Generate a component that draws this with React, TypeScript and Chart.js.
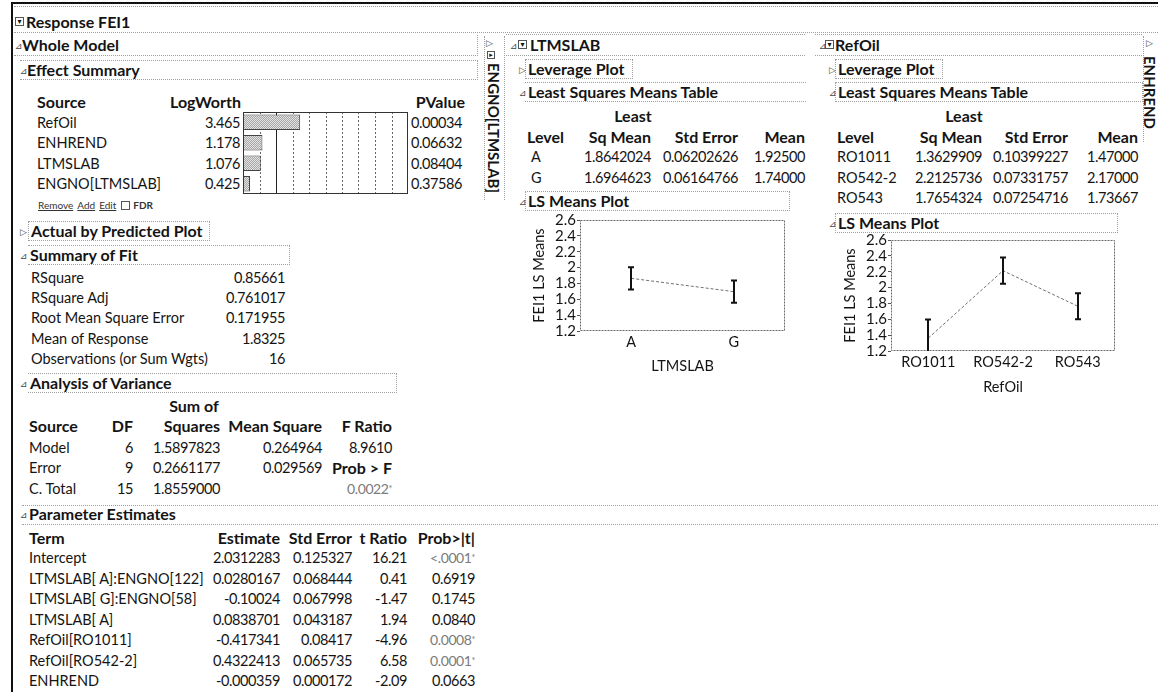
import React, { useEffect, useRef } from 'react';
import { Chart, registerables } from 'chart.js';
Chart.register(...registerables);

const FONT = 'Lato, "Noto Sans", sans-serif';

// ---------- data ----------
const effectSources = ['RefOil', 'ENHREND', 'LTMSLAB', 'ENGNO[LTMSLAB]'];
const logWorth = [3.465, 1.178, 1.076, 0.425];
const effectPValues = ['0.00034', '0.06632', '0.08404', '0.37586'];
const logWorthMax = 10;
const logWorthGrid = [1, 2, 3, 4, 5, 6, 7, 8, 9];
const logWorthRef = 2;

const fitLabels = ['RSquare', 'RSquare Adj', 'Root Mean Square Error', 'Mean of Response', 'Observations (or Sum Wgts)'];
const fitValues = ['0.85661', '0.761017', '0.171955', '1.8325', '16'];

const anovaSource = ['Model', 'Error', 'C. Total'];
const anovaDF = ['6', '9', '15'];
const anovaSS = ['1.5897823', '0.2661177', '1.8559000'];
const anovaMS = ['0.264964', '0.029569', ''];
const anovaF = ['8.9610', 'Prob > F', '0.0022*'];

const paramTerms = ['Intercept', 'LTMSLAB[ A]:ENGNO[122]', 'LTMSLAB[ G]:ENGNO[58]', 'LTMSLAB[ A]', 'RefOil[RO1011]', 'RefOil[RO542-2]', 'ENHREND'];
const paramEst = ['2.0312283', '0.0280167', '-0.10024', '0.0838701', '-0.417341', '0.4322413', '-0.000359'];
const paramSE = ['0.125327', '0.068444', '0.067998', '0.043187', '0.08417', '0.065735', '0.000172'];
const paramT = ['16.21', '0.41', '-1.47', '1.94', '-4.96', '6.58', '-2.09'];
const paramP = ['<.0001*', '0.6919', '0.1745', '0.0840', '0.0008*', '0.0001*', '0.0663'];

const ltmsLevels = ['A', 'G'];
const ltmsLsMean = [1.8642024, 1.6964623];
const ltmsLsMeanText = ['1.8642024', '1.6964623'];
const ltmsStdErr = ['0.06202626', '0.06164766'];
const ltmsMean = ['1.92500', '1.74000'];
const ltmsLower = [1.724, 1.557];
const ltmsUpper = [2.004, 1.836];

const refLevels = ['RO1011', 'RO542-2', 'RO543'];
const refLsMean = [1.3629909, 2.2125736, 1.7654324];
const refLsMeanText = ['1.3629909', '2.2125736', '1.7654324'];
const refStdErr = ['0.10399227', '0.07331757', '0.07254716'];
const refMean = ['1.47000', '2.17000', '1.73667'];
const refLower = [1.128, 2.047, 1.601];
const refUpper = [1.598, 2.378, 1.929];

const lsTicks = [1.2, 1.4, 1.6, 1.8, 2.0, 2.2, 2.4, 2.6];

// ---------- helpers ----------
const W = 1158;
const REG = 14.5;
const BOLD = 16;

function T(props: { x: number; y: number; children: any; bold?: boolean; num?: boolean; align?: 'left' | 'right' | 'center'; size?: number; color?: string; style?: any }) {
  const { x, y, children, bold, num, align = 'left', color = '#141414', style } = props;
  const size = props.size ?? (bold ? BOLD : REG);
  const s: any = {
    position: 'absolute', top: y - 9, whiteSpace: 'nowrap', fontSize: size, lineHeight: '18px',
    fontWeight: bold ? 700 : 400, color, letterSpacing: num ? '-0.4px' : 'normal', ...style,
  };
  if (align === 'right') s.right = W - x;
  else if (align === 'center') { s.left = x; s.transform = 'translateX(-50%)'; }
  else s.left = x;
  return <div style={s}>{children}</div>;
}

function Box(props: { x1: number; y1: number; x2: number; y2: number; sides?: string }) {
  const { x1, y1, x2, y2, sides = 'tlrb' } = props;
  const b = '1px dotted #a0a0a0';
  return (
    <div style={{
      position: 'absolute', left: x1, top: y1, width: x2 - x1, height: y2 - y1, boxSizing: 'border-box',
      borderTop: sides.includes('t') ? b : 'none', borderLeft: sides.includes('l') ? b : 'none',
      borderRight: sides.includes('r') ? b : 'none', borderBottom: sides.includes('b') ? b : 'none',
    }} />
  );
}

function Tri(props: { x: number; y: number; open?: boolean }) {
  return (
    <div style={{ position: 'absolute', left: props.x, top: props.y - 6, fontSize: 9, lineHeight: '12px', color: '#444', fontFamily: 'DejaVu Sans' }}>
      {props.open === false ? '▷' : '⊿'}
    </div>
  );
}

function MenuIcon(props: { x: number; y: number }) {
  return (
    <div style={{
      position: 'absolute', left: props.x, top: props.y - 5, width: 9, height: 9, border: '1px solid #555', boxSizing: 'border-box',
      fontSize: 8, lineHeight: '7px', textAlign: 'center', color: '#111', fontFamily: 'DejaVu Sans',
    }}>▾</div>
  );
}

function PVal(props: { x: number; y: number; v: string }) {
  const star = props.v.endsWith('*');
  const base = star ? props.v.slice(0, -1) : props.v;
  return (
    <T x={props.x} y={props.y} align="right" num color={star ? '#7a7a7a' : '#141414'} size={star ? 14 : REG}>
      {base}{star ? <span style={{ fontSize: 9, verticalAlign: 'top' }}>*</span> : null}
    </T>
  );
}

// ---------- LogWorth bar chart ----------
function LogWorthChart() {
  const ref = useRef<HTMLCanvasElement>(null);
  useEffect(() => {
    const cv = ref.current!;
    const pc = document.createElement('canvas');
    pc.width = 2; pc.height = 2;
    const g = pc.getContext('2d')!;
    g.fillStyle = '#e2e2e2'; g.fillRect(0, 0, 2, 2);
    g.fillStyle = '#a8a8a8'; g.fillRect(0, 0, 1, 1); g.fillRect(1, 1, 1, 1);
    const pattern = cv.getContext('2d')!.createPattern(pc, 'repeat');
    const chart = new Chart(cv, {
      type: 'bar',
      data: {
        labels: effectSources,
        datasets: [{ data: logWorth, backgroundColor: pattern as any, borderColor: '#444', borderWidth: 1, barPercentage: 0.76, categoryPercentage: 1 }],
      },
      options: {
        indexAxis: 'y', animation: false, responsive: false, events: [],
        layout: { padding: 0 },
        plugins: { legend: { display: false }, tooltip: { enabled: false } },
        scales: { x: { display: false, min: 0, max: logWorthMax }, y: { display: false } },
      },
      plugins: [{
        id: 'lwGrid',
        beforeDatasetsDraw(c: any) {
          const { ctx, chartArea: a, scales } = c;
          ctx.save();
          logWorthGrid.forEach((v) => {
            const x = Math.round(scales.x.getPixelForValue(v)) + 0.5;
            ctx.beginPath();
            ctx.strokeStyle = v === logWorthRef ? '#222' : '#666';
            ctx.lineWidth = 1;
            ctx.setLineDash(v === logWorthRef ? [] : [2, 2]);
            ctx.moveTo(x, a.top); ctx.lineTo(x, a.bottom); ctx.stroke();
          });
          ctx.restore();
        },
        afterDraw(c: any) {
          const { ctx, chartArea: a } = c;
          ctx.save();
          ctx.strokeStyle = '#333'; ctx.lineWidth = 1;
          ctx.strokeRect(a.left + 0.5, a.top + 0.5, a.right - a.left - 1, a.bottom - a.top - 1);
          ctx.restore();
        },
      }],
    } as any);
    return () => chart.destroy();
  }, []);
  return <canvas ref={ref} width={165} height={82} style={{ position: 'absolute', left: 243, top: 112 }} />;
}

// ---------- LS Means plot ----------
function LSPlot(props: {
  left: number; top: number; width: number; height: number; levels: string[]; means: number[]; lower: number[]; upper: number[];
  xTitle: string; yAxisW: number; padRight: number; padTop: number; xAxisH: number; yTitlePad: number; xTitlePad: number; xTickPad: number;
}) {
  const ref = useRef<HTMLCanvasElement>(null);
  useEffect(() => {
    const p = props;
    const chart = new Chart(ref.current!, {
      type: 'line',
      data: {
        labels: p.levels,
        datasets: [{ data: p.means, borderColor: '#707070', borderWidth: 1, borderDash: [3, 2], pointRadius: 0, fill: false, tension: 0 }],
      },
      options: {
        animation: false, responsive: false, events: [],
        layout: { padding: { left: 0, right: p.padRight, top: p.padTop, bottom: 0 } },
        plugins: { legend: { display: false }, tooltip: { enabled: false } },
        scales: {
          x: {
            type: 'category', offset: true,
            grid: { display: false, drawTicks: false }, border: { display: false },
            ticks: { font: { family: FONT, size: 14.5 }, color: '#141414', padding: p.xTickPad, maxRotation: 0, autoSkip: false },
            title: { display: true, text: p.xTitle, font: { family: FONT, size: 14.5 }, color: '#141414', padding: { top: 0, bottom: p.xTitlePad } },
            afterFit: (s: any) => { s.height = p.xAxisH; },
          },
          y: {
            min: lsTicks[0], max: lsTicks[lsTicks.length - 1],
            afterBuildTicks: (s: any) => { s.ticks = lsTicks.map((v) => ({ value: v })); },
            grid: { display: true, drawOnChartArea: false, drawTicks: true, tickLength: 3, color: '#555' },
            border: { display: false },
            ticks: { font: { family: FONT, size: 15 }, color: '#141414', padding: 1, autoSkip: false, callback: (v: any) => String(Number(Number(v).toFixed(1))) },
            title: { display: true, text: 'FEI1 LS Means', font: { family: FONT, size: 14.5 }, color: '#141414', padding: { top: p.yTitlePad, bottom: 0 } },
            afterFit: (s: any) => { s.width = p.yAxisW; },
          },
        },
      },
      plugins: [{
        id: 'frameErr',
        afterDatasetsDraw(c: any) {
          const { ctx, chartArea: a, scales } = c;
          ctx.save();
          ctx.strokeStyle = '#6a6a6a'; ctx.lineWidth = 1; ctx.setLineDash([2, 1]);
          ctx.strokeRect(a.left + 0.5, a.top + 0.5, a.right - a.left - 1, a.bottom - a.top - 1);
          ctx.setLineDash([]);
          ctx.beginPath(); ctx.rect(a.left, a.top, a.right - a.left, a.bottom - a.top); ctx.clip();
          ctx.strokeStyle = '#111'; ctx.lineWidth = 2;
          p.levels.forEach((_, i) => {
            const x = Math.round(scales.x.getPixelForValue(i));
            const y1 = scales.y.getPixelForValue(p.lower[i]);
            const y2 = scales.y.getPixelForValue(p.upper[i]);
            ctx.beginPath();
            ctx.moveTo(x, y1); ctx.lineTo(x, y2);
            ctx.moveTo(x - 3, y1); ctx.lineTo(x + 3, y1);
            ctx.moveTo(x - 3, y2); ctx.lineTo(x + 3, y2);
            ctx.stroke();
          });
          ctx.restore();
        },
      }],
    } as any);
    return () => chart.destroy();
  }, []);
  return <canvas ref={ref} width={props.width} height={props.height} style={{ position: 'absolute', left: props.left, top: props.top }} />;
}

// ---------- App ----------
export default function App() {
  const esRows = [123, 143, 163.5, 184];
  const fitRows = [278, 298, 318, 339, 359];
  const anovaRows = [448, 468, 489];
  const paramRows = paramTerms.map((_, i) => 558 + i * 20.5);
  const lsRows = [157, 178, 198];
  return (
    <div style={{ position: 'fixed', left: 0, top: 0, width: W, height: 692, background: '#fff', overflow: 'hidden', fontFamily: FONT, color: '#141414' }}>
      {/* frame lines */}
      <div style={{ position: 'absolute', left: 11, top: 2, width: W - 11, height: 2, background: '#111' }} />
      <div style={{ position: 'absolute', left: 11, top: 2, width: 2, height: 690, background: '#111' }} />
      <Box x1={14} y1={6} x2={1158} y2={33} sides="tb" />

      {/* Response header */}
      <MenuIcon x={15} y={22} />
      <T x={26} y={22} bold>Response FEI1</T>

      {/* Whole model */}
      <Box x1={14} y1={35} x2={478} y2={56} sides="br" />
      <Tri x={15} y={46} />
      <T x={22} y={45} bold>Whole Model</T>

      <Box x1={20} y1={60} x2={478} y2={80} sides="tbr" />
      <Tri x={20} y={71} />
      <T x={27} y={70} bold>Effect Summary</T>

      <T x={37} y={101.5} bold>Source</T>
      <T x={241} y={101.5} bold align="right">LogWorth</T>
      <T x={465} y={101.5} bold align="right">PValue</T>
      {effectSources.map((s, i) => (
        <React.Fragment key={s}>
          <T x={37} y={esRows[i]}>{s}</T>
          <T x={240} y={esRows[i]} num align="right">{logWorth[i].toFixed(3)}</T>
          <T x={411} y={esRows[i]} num>{effectPValues[i]}</T>
        </React.Fragment>
      ))}
      <LogWorthChart />
      <div style={{ position: 'absolute', left: 38, top: 199, fontSize: 10, lineHeight: '12px', color: '#333', whiteSpace: 'nowrap' }}>
        <span style={{ textDecoration: 'underline' }}>Remove</span>
        <span style={{ marginLeft: 4, textDecoration: 'underline' }}>Add</span>
        <span style={{ marginLeft: 4, textDecoration: 'underline' }}>Edit</span>
        <span style={{ marginLeft: 5, display: 'inline-block', width: 7, height: 7, border: '1px solid #555', verticalAlign: -1 }} />
        <span style={{ marginLeft: 3, fontWeight: 700 }}>FDR</span>
      </div>

      <Box x1={28} y1={221} x2={210} y2={241} />
      <Tri x={20} y={232} open={false} />
      <T x={31} y={231} bold>Actual by Predicted Plot</T>

      <Box x1={28} y1={245} x2={290} y2={265} sides="tbr" />
      <Tri x={20} y={256} />
      <T x={30} y={255} bold>Summary of Fit</T>
      {fitLabels.map((l, i) => (
        <React.Fragment key={l}>
          <T x={31} y={fitRows[i]}>{l}</T>
          <T x={285} y={fitRows[i]} num align="right">{fitValues[i]}</T>
        </React.Fragment>
      ))}

      <Box x1={28} y1={373} x2={397} y2={393} sides="tbr" />
      <Tri x={20} y={384} />
      <T x={30} y={383} bold>Analysis of Variance</T>
      <T x={194} y={406} bold align="center">Sum of</T>
      <T x={29} y={426} bold>Source</T>
      <T x={133} y={426} bold align="right">DF</T>
      <T x={220} y={426} bold align="right">Squares</T>
      <T x={322} y={426} bold align="right">Mean Square</T>
      <T x={392} y={426} bold align="right">F Ratio</T>
      {anovaSource.map((s, i) => (
        <React.Fragment key={s}>
          <T x={29} y={anovaRows[i]}>{s}</T>
          <T x={133} y={anovaRows[i]} num align="right">{anovaDF[i]}</T>
          <T x={220} y={anovaRows[i]} num align="right">{anovaSS[i]}</T>
          <T x={322} y={anovaRows[i]} num align="right">{anovaMS[i]}</T>
          {i === 1 ? <T x={392} y={anovaRows[i]} bold align="right">{anovaF[i]}</T> : <PVal x={392} y={anovaRows[i]} v={anovaF[i]} />}
        </React.Fragment>
      ))}

      <Box x1={22} y1={505} x2={1158} y2={525} sides="tb" />
      <Tri x={20} y={515} />
      <T x={29} y={514} bold>Parameter Estimates</T>
      <T x={29} y={538} bold>Term</T>
      <T x={280} y={538} bold align="right">Estimate</T>
      <T x={352} y={538} bold align="right">Std Error</T>
      <T x={407} y={538} bold align="right">t Ratio</T>
      <T x={475} y={538} bold align="right">Prob&gt;|t|</T>
      {paramTerms.map((t, i) => (
        <React.Fragment key={t}>
          <T x={29} y={paramRows[i]}>{t}</T>
          <T x={280} y={paramRows[i]} num align="right">{paramEst[i]}</T>
          <T x={352} y={paramRows[i]} num align="right">{paramSE[i]}</T>
          <T x={407} y={paramRows[i]} num align="right">{paramT[i]}</T>
          <PVal x={475} y={paramRows[i]} v={paramP[i]} />
        </React.Fragment>
      ))}

      {/* ENGNO[LTMSLAB] collapsed vertical */}
      <Box x1={484} y1={36} x2={505} y2={200} sides="lr" />
      <Tri x={486} y={43} open={false} />
      <div style={{ position: 'absolute', left: 487, top: 51, width: 8, height: 8, border: '1px solid #555', boxSizing: 'border-box', fontSize: 7, lineHeight: '6px', textAlign: 'center', fontFamily: 'DejaVu Sans' }}>▸</div>
      <div style={{ position: 'absolute', left: 485, top: 63, writingMode: 'vertical-rl', fontWeight: 700, fontSize: 15, lineHeight: '18px', whiteSpace: 'nowrap' }}>ENGNO[LTMSLAB]</div>

      {/* LTMSLAB panel */}
      <Box x1={506} y1={34} x2={805} y2={56} sides="tb" />
      <Tri x={510} y={46} />
      <MenuIcon x={518} y={45} />
      <T x={530} y={45} bold>LTMSLAB</T>
      <Box x1={525} y1={59} x2={633} y2={79} />
      <Tri x={519} y={70} open={false} />
      <T x={528} y={69} bold>Leverage Plot</T>
      <Box x1={525} y1={82} x2={806} y2={102} sides="tb" />
      <Tri x={519} y={93} />
      <T x={528} y={92} bold>Least Squares Means Table</T>
      <T x={633} y={116} bold align="center">Least</T>
      <T x={527} y={137} bold>Level</T>
      <T x={651} y={137} bold align="right">Sq Mean</T>
      <T x={738} y={137} bold align="right">Std Error</T>
      <T x={805} y={137} bold align="right">Mean</T>
      {ltmsLevels.map((l, i) => (
        <React.Fragment key={l}>
          <T x={531} y={lsRows[i]}>{l}</T>
          <T x={651} y={lsRows[i]} num align="right">{ltmsLsMeanText[i]}</T>
          <T x={738} y={lsRows[i]} num align="right">{ltmsStdErr[i]}</T>
          <T x={805} y={lsRows[i]} num align="right">{ltmsMean[i]}</T>
        </React.Fragment>
      ))}
      <Box x1={525} y1={191} x2={790} y2={211} />
      <Tri x={519} y={202} />
      <T x={528} y={201} bold>LS Means Plot</T>
      <LSPlot left={520} top={210} width={280} height={171} levels={ltmsLevels} means={ltmsLsMean} lower={ltmsLower} upper={ltmsUpper}
        xTitle="LTMSLAB" yAxisW={60} padRight={15} padTop={8} xAxisH={50} yTitlePad={11} xTitlePad={6} xTickPad={3} />

      {/* RefOil panel */}
      <Box x1={815} y1={34} x2={1142} y2={56} sides="tb" />
      <Tri x={819} y={46} />
      <MenuIcon x={825} y={45} />
      <T x={835} y={45} bold>RefOil</T>
      <Box x1={835} y1={59} x2={943} y2={79} />
      <Tri x={829} y={70} open={false} />
      <T x={838} y={69} bold>Leverage Plot</T>
      <Box x1={835} y1={82} x2={1143} y2={102} />
      <Tri x={829} y={93} />
      <T x={838} y={92} bold>Least Squares Means Table</T>
      <T x={964} y={116} bold align="center">Least</T>
      <T x={837} y={137} bold>Level</T>
      <T x={982} y={137} bold align="right">Sq Mean</T>
      <T x={1068} y={137} bold align="right">Std Error</T>
      <T x={1138} y={137} bold align="right">Mean</T>
      {refLevels.map((l, i) => (
        <React.Fragment key={l}>
          <T x={837} y={lsRows[i]}>{l}</T>
          <T x={982} y={lsRows[i]} num align="right">{refLsMeanText[i]}</T>
          <T x={1068} y={lsRows[i]} num align="right">{refStdErr[i]}</T>
          <T x={1138} y={lsRows[i]} num align="right">{refMean[i]}</T>
        </React.Fragment>
      ))}
      <Box x1={835} y1={213} x2={1118} y2={233} />
      <Tri x={829} y={224} />
      <T x={838} y={223} bold>LS Means Plot</T>
      <LSPlot left={830} top={230} width={300} height={171} levels={refLevels} means={refLsMean} lower={refLower} upper={refUpper}
        xTitle="RefOil" yAxisW={61} padRight={15} padTop={8} xAxisH={50} yTitlePad={12} xTitlePad={5} xTickPad={3} />

      {/* ENHREND collapsed vertical */}
      <Box x1={1143} y1={36} x2={1159} y2={142} sides="l" />
      <Tri x={1146} y={43} open={false} />
      <div style={{ position: 'absolute', left: 1141, top: 56, writingMode: 'vertical-rl', fontWeight: 700, fontSize: 15, lineHeight: '18px', whiteSpace: 'nowrap' }}>ENHREND</div>
    </div>
  );
}
